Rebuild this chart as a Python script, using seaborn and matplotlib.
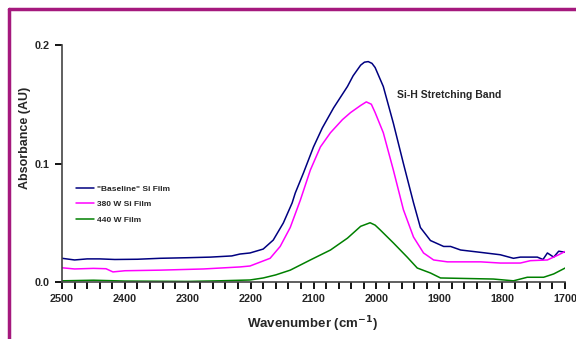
import matplotlib
matplotlib.use("Agg")
import matplotlib.pyplot as plt
from matplotlib.lines import Line2D
from matplotlib.ticker import MultipleLocator, FormatStrFormatter
import pandas as pd
import seaborn as sns

# "Baseline" Si film
wn_base = [2500, 2480, 2460, 2440, 2416, 2380, 2344, 2300, 2264, 2230, 2217, 2201,
           2180, 2164, 2148, 2134, 2129, 2116, 2100, 2086, 2068, 2046, 2037, 2025,
           2019, 2013, 2007, 2002, 1989, 1973, 1957, 1941, 1930, 1914, 1893, 1882,
           1866, 1834, 1803, 1782, 1771, 1744, 1735, 1728, 1718, 1710, 1699]
abs_base = [0.020, 0.0186, 0.0195, 0.0195, 0.019, 0.0192, 0.020, 0.0205, 0.021, 0.022, 0.0236, 0.0245,
            0.0278, 0.0354, 0.0498, 0.0667, 0.0751, 0.092, 0.114, 0.130, 0.147, 0.165, 0.174, 0.183,
            0.1855, 0.186, 0.1845, 0.181, 0.165, 0.134, 0.100, 0.067, 0.046, 0.035, 0.030, 0.030,
            0.027, 0.025, 0.023, 0.020, 0.021, 0.021, 0.019, 0.0245, 0.021, 0.026, 0.025]

# 380 W Si film
wn_380 = [2500, 2480, 2450, 2430, 2419, 2400, 2344, 2275, 2217, 2201, 2169, 2153,
          2137, 2121, 2105, 2089, 2073, 2054, 2041, 2025, 2016, 2008, 2002, 1989,
          1973, 1957, 1941, 1925, 1909, 1887, 1861, 1834, 1803, 1771, 1755, 1728,
          1710, 1699]
abs_380 = [0.012, 0.011, 0.0115, 0.0112, 0.0085, 0.0095, 0.010, 0.011, 0.0127, 0.0135, 0.020, 0.030,
           0.046, 0.069, 0.0945, 0.114, 0.126, 0.137, 0.143, 0.149, 0.152, 0.150, 0.143, 0.126,
           0.0945, 0.061, 0.038, 0.0245, 0.0186, 0.017, 0.017, 0.017, 0.016, 0.016, 0.018, 0.0186,
           0.023, 0.026]

# 440 W film
wn_440 = [2500, 2450, 2400, 2300, 2250, 2201, 2180, 2160, 2137, 2105, 2073, 2046,
          2025, 2010, 2002, 1994, 1973, 1951, 1935, 1914, 1898, 1861, 1814, 1782,
          1760, 1734, 1718, 1699]
abs_440 = [0.001, 0.0015, 0.0008, 0.0005, 0.001, 0.0017, 0.0034, 0.006, 0.010, 0.0186, 0.027, 0.037,
           0.047, 0.050, 0.048, 0.044, 0.033, 0.021, 0.0118, 0.0076, 0.0034, 0.003, 0.0025, 0.001,
           0.004, 0.004, 0.0068, 0.012]

labels = ['"Baseline" Si Film', "380 W Si Film", "440 W Film"]
colors = ["#000080", "#ff00ff", "#008000"]

df = pd.concat([
    pd.DataFrame({"wn": wn_base, "A": abs_base, "film": labels[0]}),
    pd.DataFrame({"wn": wn_380, "A": abs_380, "film": labels[1]}),
    pd.DataFrame({"wn": wn_440, "A": abs_440, "film": labels[2]}),
])

sns.set_style("ticks")
plt.rcParams["font.family"] = ["Liberation Sans", "DejaVu Sans"]
plt.rcParams["font.weight"] = "bold"

fig = plt.figure(figsize=(5.76, 3.39), dpi=100)
ax = fig.add_axes([62 / 576, 1 - 282 / 339, 503 / 576, 237 / 339])

sns.lineplot(data=df, x="wn", y="A", hue="film", palette=colors, estimator=None,
             sort=False, linewidth=1.1, ax=ax)

ax.set_xlim(2500, 1700)
ax.set_ylim(0, 0.2)
ax.xaxis.set_major_locator(MultipleLocator(100))
ax.xaxis.set_minor_locator(MultipleLocator(20))
ax.yaxis.set_major_locator(MultipleLocator(0.1))
ax.yaxis.set_major_formatter(FormatStrFormatter("%.1f"))
ax.tick_params(axis="both", which="major", labelsize=7.8, pad=4, length=5, width=1.3,
               color="black", direction="out", bottom=True, left=True)
ax.tick_params(axis="x", which="minor", length=5, width=1.3, color="black",
               direction="out", bottom=True)
for lab in ax.get_xticklabels() + ax.get_yticklabels():
    lab.set_fontweight("bold")

for s in ["top", "right"]:
    ax.spines[s].set_visible(False)
for s in ["left", "bottom"]:
    ax.spines[s].set_color("#444444")
    ax.spines[s].set_linewidth(1.2)

ax.set_xlabel("Wavenumber (cm$^{\\mathbf{-1}}$)", fontsize=9.5, fontweight="bold")
ax.xaxis.set_label_coords(0.497, -0.135)
ax.set_ylabel("Absorbance (AU)", fontsize=9, fontweight="bold")
ax.yaxis.set_label_coords(-0.062, 0.61)

leg = ax.legend(loc="upper left", bbox_to_anchor=(0.013, 0.44), frameon=False,
                fontsize=6, handlelength=2.2, labelspacing=0.9, handletextpad=0.3)
for t in leg.get_texts():
    t.set_fontweight("bold")

ax.text(1967, 0.158, "Si-H Stretching Band", fontsize=7.5, fontweight="bold",
        ha="left", va="center")

# magenta frame
fc = "#a5197d"
fig.add_artist(Line2D([9 / 576, 9 / 576], [0, 1 - 9 / 339], color=fc, lw=2.5,
                      transform=fig.transFigure))
fig.add_artist(Line2D([9 / 576, 1], [1 - 9 / 339, 1 - 9 / 339], color=fc, lw=2.5,
                      transform=fig.transFigure))

fig.savefig("out.png", dpi=100)
